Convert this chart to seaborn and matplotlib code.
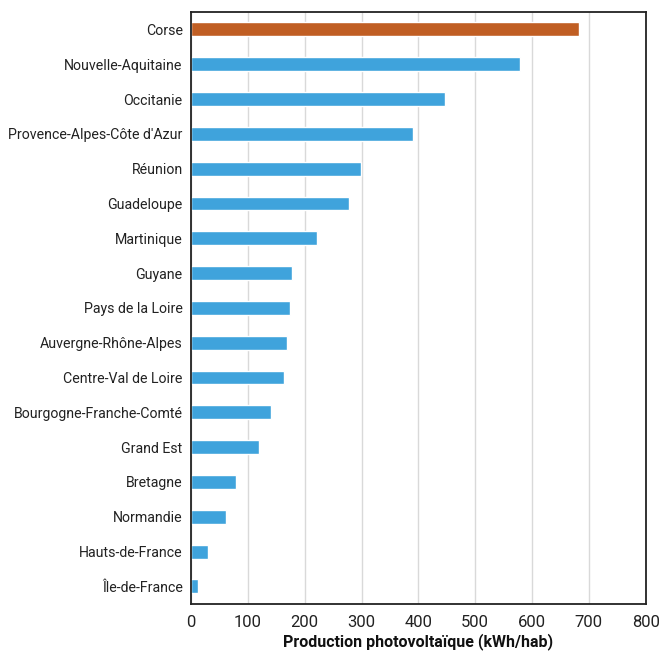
import pandas as pd
import matplotlib.pyplot as plt
import seaborn as sns

regions = [
    "Corse", "Nouvelle-Aquitaine", "Occitanie", "Provence-Alpes-Côte d'Azur",
    "Réunion", "Guadeloupe", "Martinique", "Guyane", "Pays de la Loire",
    "Auvergne-Rhône-Alpes", "Centre-Val de Loire", "Bourgogne-Franche-Comté",
    "Grand Est", "Bretagne", "Normandie", "Hauts-de-France", "Île-de-France",
]
production = [683, 578, 447, 391, 299, 278, 222, 177, 174,
              169, 164, 140, 120, 79, 62, 30, 12]
highlight = ["Corse"]

BLUE = "#3fa3dc"
ORANGE = "#c05e23"

df = pd.DataFrame({"region": regions, "kwh": production})
df["groupe"] = ["hl" if r in highlight else "autre" for r in df["region"]]

sns.set_style("white")
plt.rcParams["font.family"] = ["Roboto", "DejaVu Sans"]

fig = plt.figure(figsize=(6.62, 6.57), dpi=100)
ax = fig.add_axes([0.2885, 0.081, 0.687, 0.9007])

sns.barplot(data=df, x="kwh", y="region", hue="groupe",
            palette={"hl": ORANGE, "autre": BLUE}, orient="h",
            width=0.4, dodge=False, legend=False, saturation=1, ax=ax)

ax.set_xlim(0, 800)
ax.set_ylim(16.5, -0.5)
ax.set_xticks(range(0, 801, 100))
ax.grid(axis="x", color="#d9d9d9", linewidth=1)
ax.set_axisbelow(True)
for s in ax.spines.values():
    s.set_visible(True)
    s.set_color("#222222")
    s.set_linewidth(1.3)

ax.tick_params(axis="y", length=0, pad=6, labelsize=10.2, labelcolor="#222222")
ax.tick_params(axis="x", length=0, pad=8, labelsize=12, labelcolor="#222222")
ax.set_ylabel("")
ax.set_xlabel("Production photovoltaïque (kWh/hab)", fontsize=11.5,
              fontweight="bold", labelpad=2, color="#111111")

fig.savefig("out.png", dpi=100)
